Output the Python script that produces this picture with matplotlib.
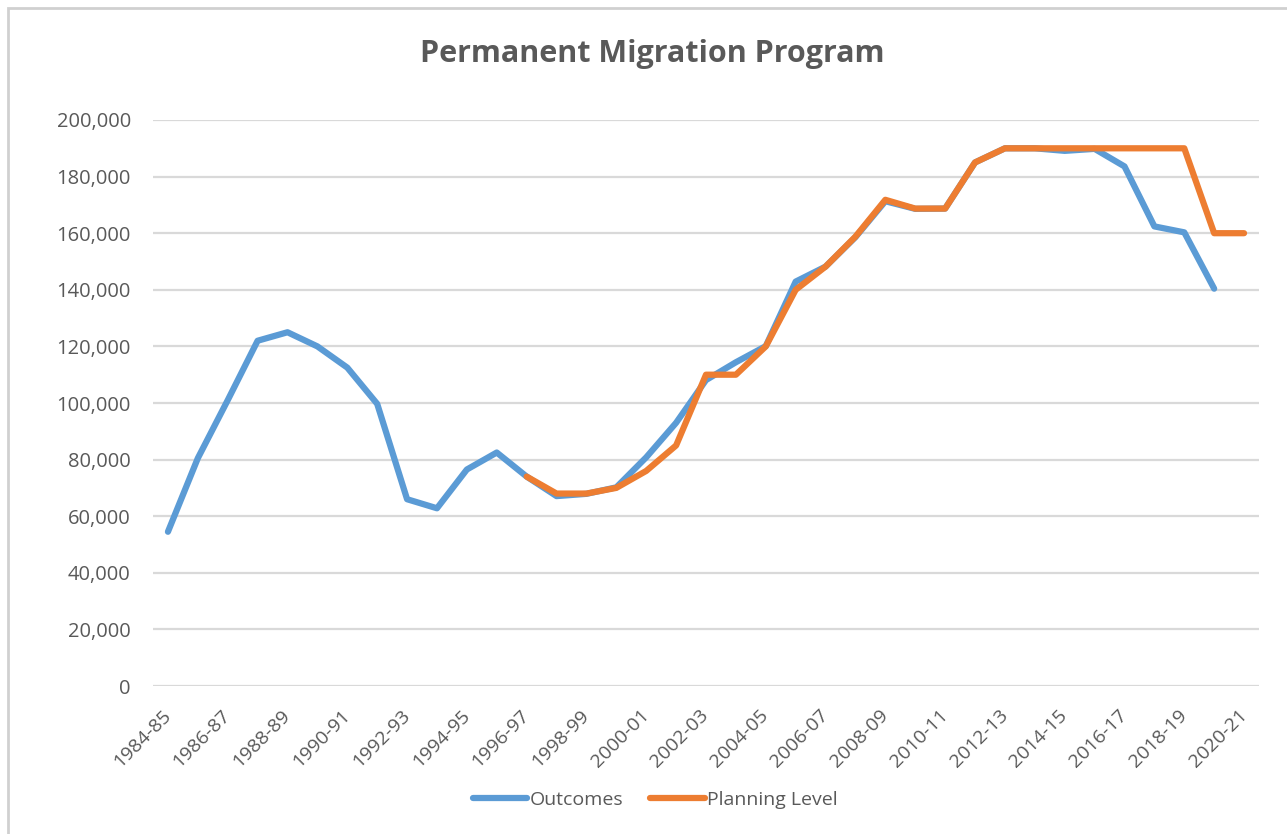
import matplotlib
matplotlib.use('Agg')
import matplotlib.pyplot as plt
from matplotlib.patches import Rectangle
from matplotlib.ticker import FuncFormatter

# financial years 1984-85 .. 2020-21
years = [f"{y}-{str(y + 1)[-2:]}" for y in range(1984, 2021)]

outcomes = [54500, 80500, 101000, 122000, 125000, 120000, 112500, 99700,
            66000, 62800, 76500, 82500, 74000, 67100, 67900, 70200,
            80800, 93000, 108100, 114400, 120100, 142900, 148200, 158600,
            171300, 168600, 168700, 185000, 190000, 190000, 189100, 189800,
            183600, 162400, 160300, 140400]

planning_start = 12  # 1996-97
planning = [74000, 68000, 68000, 70000, 76000, 85000, 110000, 110000,
            120000, 140000, 148200, 158800, 171800, 168700, 168700, 185000,
            190000, 190000, 190000, 190000, 190000, 190000, 190000, 160000,
            160000]

blue = '#5B9BD5'
orange = '#ED7D31'
text_col = '#595959'
grid_col = '#D9D9D9'

plt.rcParams['font.family'] = ['Open Sans', 'DejaVu Sans']

fig = plt.figure(figsize=(12.87, 8.34), dpi=100)
fig.patches.append(Rectangle((8 / 1287, -0.1), 1.2, 1 - 8 / 834 + 0.1,
                             transform=fig.transFigure, fill=False,
                             edgecolor='#D0D0D0', linewidth=2))

ax = fig.add_axes([153 / 1287, 1 - 686 / 834, (1259 - 153) / 1287, (686 - 120) / 834])

x_out = list(range(len(outcomes)))
x_plan = list(range(planning_start, planning_start + len(planning)))
ax.plot(x_out, outcomes, color=blue, linewidth=4.5, label='Outcomes',
        solid_joinstyle='round', solid_capstyle='round')
ax.plot(x_plan, planning, color=orange, linewidth=4.5, label='Planning Level',
        solid_joinstyle='round', solid_capstyle='round')

ax.set_xlim(-0.5, len(years) - 0.5)
ax.set_ylim(0, 200000)
ax.set_yticks(range(0, 200001, 20000))
ax.yaxis.set_major_formatter(FuncFormatter(lambda v, p: f"{int(v):,}"))
ax.grid(axis='y', color=grid_col, linewidth=1.6)
ax.set_axisbelow(True)
for s in ax.spines.values():
    s.set_visible(False)

ax.set_xticks(range(0, len(years), 2))
ax.set_xticklabels(years[::2], rotation=45, ha='right', va='center',
                   rotation_mode='anchor')
ax.tick_params(axis='x', length=0, pad=19, labelsize=14, labelcolor=text_col)
ax.tick_params(axis='y', length=0, pad=16, labelsize=14.5, labelcolor=text_col)

fig.text(0.5065, 1 - 54 / 834, 'Permanent Migration Program', ha='center', va='center',
         fontsize=22, fontweight='bold', color=text_col)

fig.legend(loc='center', bbox_to_anchor=(655 / 1287, 1 - 800 / 834), ncol=2,
           frameon=False, fontsize=14, handlelength=2.8, handletextpad=0.1,
           columnspacing=1.4, labelcolor=text_col)

fig.savefig('out.png', dpi=100)
plt.close(fig)
